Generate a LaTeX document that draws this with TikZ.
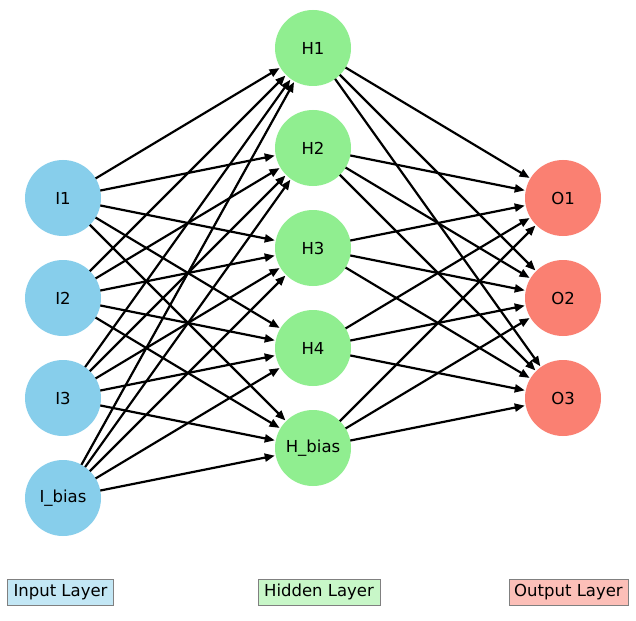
\documentclass[tikz,border=0pt]{standalone}
\usepackage{fontspec}
\setmainfont{DejaVu Sans}
\usetikzlibrary{arrows.meta}
\definecolor{inblue}{HTML}{87CEEB}
\definecolor{hidgreen}{HTML}{90EE90}
\definecolor{outsalmon}{HTML}{FA8072}
\definecolor{inlight}{HTML}{C3E7F5}
\definecolor{hidlight}{HTML}{C8F7C8}
\definecolor{outlight}{HTML}{FCBFB8}
\begin{document}
\begin{tikzpicture}[x=1bp,y=-1bp,
  neuron/.style={circle,minimum size=76bp,inner sep=0pt,outer sep=0pt,draw=none,font=\fontsize{16.5bp}{20bp}\selectfont},
  innode/.style={neuron,fill=inblue},
  hidnode/.style={neuron,fill=hidgreen},
  outnode/.style={neuron,fill=outsalmon},
  conn/.style={line width=2.2bp,-{Triangle[length=10bp,width=8bp]},black,shorten >=1bp},
  legendbox/.style={draw=gray,line width=1bp,inner sep=0pt,minimum height=26bp,font=\fontsize{16.5bp}{20bp}\selectfont}
]
\useasboundingbox (0,0) rectangle (636,621);
\fill[white] (0,0) rectangle (636,621);
% input layer
\node[innode] (I1) at (63,198) {I1};
\node[innode] (I2) at (63,298) {I2};
\node[innode] (I3) at (63,398) {I3};
\node[innode] (Ib) at (63,498) {I\_bias};
% hidden layer
\node[hidnode] (H1) at (313,48) {H1};
\node[hidnode] (H2) at (313,148) {H2};
\node[hidnode] (H3) at (313,248) {H3};
\node[hidnode] (H4) at (313,348) {H4};
\node[hidnode] (Hb) at (313,448) {H\_bias};
% output layer
\node[outnode] (O1) at (563,198) {O1};
\node[outnode] (O2) at (563,298) {O2};
\node[outnode] (O3) at (563,398) {O3};
% connections
\foreach \i in {I1,I2,I3,Ib}{
  \foreach \h in {H1,H2,H3,H4,Hb}{
    \draw[conn] (\i) -- (\h);
  }
}
\foreach \h in {H1,H2,H3,H4,Hb}{
  \foreach \o in {O1,O2,O3}{
    \draw[conn] (\h) -- (\o);
  }
}
% legend
\node[legendbox,fill=inlight,minimum width=105bp] (LI) at (60.5,592) {Input Layer};
\node[legendbox,fill=hidlight,minimum width=122bp] (LH) at (319,592) {Hidden Layer};
\node[legendbox,fill=outlight,minimum width=119bp] (LO) at (568.5,592) {Output Layer};
\end{tikzpicture}
\end{document}
